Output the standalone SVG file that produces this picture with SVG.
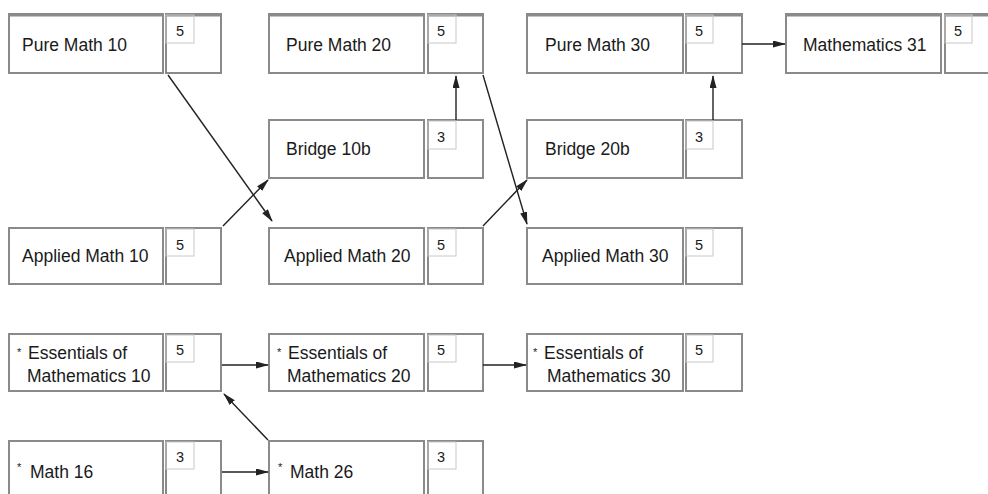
<svg xmlns="http://www.w3.org/2000/svg" width="988" height="494" viewBox="0 0 988 494">
<defs>
<marker id="ah" markerUnits="userSpaceOnUse" markerWidth="13" markerHeight="8" refX="12" refY="3.5" orient="auto">
<path d="M0,0 L13,3.5 L0,7 z" fill="#222"/>
</marker>
<style>
.box{fill:#fff;stroke:#8a8a8a;stroke-width:2}
.inner{fill:none;stroke:#c8c8c8;stroke-width:1}
.top{stroke:#8a8a8a;stroke-width:3}
.t{font-family:"Liberation Sans",Arial,sans-serif;font-size:17.5px;fill:#1a1a1a}
.n{font-family:"Liberation Sans",Arial,sans-serif;font-size:14.5px;fill:#1a1a1a}
.s{font-family:"Liberation Sans",Arial,sans-serif;font-size:11px;fill:#1a1a1a}
.c{stroke:#222;stroke-width:1.4;fill:none;marker-end:url(#ah)}
</style>
</defs>
<rect width="988" height="494" fill="#fff"/>

<g id="pm10">
<rect class="box" x="9" y="14" width="154" height="59"/><line class="top" x1="9" y1="15" x2="163" y2="15"/>
<rect class="box" x="166" y="14" width="55" height="59"/><line class="top" x1="166" y1="15" x2="221" y2="15"/>
<rect class="inner" x="166" y="15" width="28" height="28"/>
<text class="t" x="22" y="51">Pure Math 10</text><text class="n" x="176" y="36">5</text>
</g>
<g id="pm20">
<rect class="box" x="269" y="14" width="155" height="59"/><line class="top" x1="269" y1="15" x2="424" y2="15"/>
<rect class="box" x="428" y="14" width="55" height="59"/><line class="top" x1="428" y1="15" x2="483" y2="15"/>
<rect class="inner" x="428" y="15" width="28" height="28"/>
<text class="t" x="286" y="51">Pure Math 20</text><text class="n" x="437" y="36">5</text>
</g>
<g id="pm30">
<rect class="box" x="527" y="14" width="156" height="59"/><line class="top" x1="527" y1="15" x2="683" y2="15"/>
<rect class="box" x="686" y="14" width="56" height="59"/><line class="top" x1="686" y1="15" x2="742" y2="15"/>
<rect class="inner" x="686" y="15" width="27" height="28"/>
<text class="t" x="545" y="51">Pure Math 30</text><text class="n" x="695" y="36">5</text>
</g>
<g id="m31">
<rect class="box" x="786" y="14" width="155" height="59"/><line class="top" x1="786" y1="15" x2="941" y2="15"/>
<rect class="box" x="945" y="14" width="55" height="59"/><line class="top" x1="945" y1="15" x2="988" y2="15"/>
<rect class="inner" x="945" y="15" width="27" height="28"/>
<text class="t" x="803" y="51">Mathematics 31</text><text class="n" x="954" y="36">5</text>
</g>

<g id="b10">
<rect class="box" x="269" y="120" width="155" height="58"/>
<rect class="box" x="428" y="120" width="55" height="58"/>
<rect class="inner" x="428" y="121" width="28" height="28"/>
<text class="t" x="286" y="155">Bridge 10b</text><text class="n" x="437" y="142">3</text>
</g>
<g id="b20">
<rect class="box" x="527" y="120" width="156" height="58"/>
<rect class="box" x="686" y="120" width="56" height="58"/>
<rect class="inner" x="686" y="121" width="27" height="28"/>
<text class="t" x="545" y="155">Bridge 20b</text><text class="n" x="695" y="142">3</text>
</g>

<g id="am10">
<rect class="box" x="9" y="228" width="154" height="56"/>
<rect class="box" x="166" y="228" width="55" height="56"/>
<rect class="inner" x="166" y="229" width="28" height="27"/>
<text class="t" x="22" y="262">Applied Math 10</text><text class="n" x="176" y="250">5</text>
</g>
<g id="am20">
<rect class="box" x="269" y="228" width="155" height="56"/>
<rect class="box" x="428" y="228" width="55" height="56"/>
<rect class="inner" x="428" y="229" width="28" height="27"/>
<text class="t" x="284" y="262">Applied Math 20</text><text class="n" x="437" y="250">5</text>
</g>
<g id="am30">
<rect class="box" x="527" y="228" width="156" height="56"/>
<rect class="box" x="686" y="228" width="56" height="56"/>
<rect class="inner" x="686" y="229" width="27" height="27"/>
<text class="t" x="542" y="262">Applied Math 30</text><text class="n" x="695" y="250">5</text>
</g>

<g id="em10">
<rect class="box" x="9" y="334" width="154" height="57"/>
<rect class="box" x="166" y="334" width="55" height="57"/>
<rect class="inner" x="166" y="335" width="28" height="27"/>
<text class="s" x="17" y="356">*</text><text class="t" x="28" y="359">Essentials of</text>
<text class="t" x="27" y="382">Mathematics 10</text><text class="n" x="176" y="355">5</text>
</g>
<g id="em20">
<rect class="box" x="269" y="334" width="155" height="57"/>
<rect class="box" x="428" y="334" width="55" height="57"/>
<rect class="inner" x="428" y="335" width="28" height="27"/>
<text class="s" x="277" y="356">*</text><text class="t" x="288" y="359">Essentials of</text>
<text class="t" x="287" y="382">Mathematics  20</text><text class="n" x="437" y="355">5</text>
</g>
<g id="em30">
<rect class="box" x="527" y="334" width="156" height="57"/>
<rect class="box" x="686" y="334" width="56" height="57"/>
<rect class="inner" x="686" y="335" width="27" height="27"/>
<text class="s" x="533" y="356">*</text><text class="t" x="544" y="359">Essentials of</text>
<text class="t" x="547" y="382">Mathematics  30</text><text class="n" x="695" y="355">5</text>
</g>

<g id="m16">
<rect class="box" x="9" y="441" width="154" height="62"/>
<rect class="box" x="166" y="441" width="55" height="62"/>
<rect class="inner" x="166" y="442" width="28" height="27"/>
<text class="s" x="17" y="471">*</text><text class="t" x="30" y="478">Math 16</text><text class="n" x="176" y="462">3</text>
</g>
<g id="m26">
<rect class="box" x="269" y="441" width="155" height="62"/>
<rect class="box" x="428" y="441" width="55" height="62"/>
<rect class="inner" x="428" y="442" width="28" height="27"/>
<text class="s" x="278" y="471">*</text><text class="t" x="290" y="478">Math 26</text><text class="n" x="437" y="462">3</text>
</g>

<g id="connectors">
<line class="c" x1="168" y1="75" x2="272" y2="221"/>
<line class="c" x1="223" y1="226" x2="268" y2="180"/>
<line class="c" x1="456" y1="120" x2="456" y2="76"/>
<line class="c" x1="483" y1="75" x2="527" y2="224"/>
<line class="c" x1="483" y1="226" x2="527" y2="180"/>
<line class="c" x1="713" y1="120" x2="713" y2="76"/>
<line class="c" x1="742" y1="44" x2="785" y2="44"/>
<line class="c" x1="222" y1="365" x2="268" y2="365"/>
<line class="c" x1="483" y1="365" x2="526" y2="365"/>
<line class="c" x1="268" y1="440" x2="224" y2="394"/>
<line class="c" x1="222" y1="472" x2="268" y2="472"/>
</g>
</svg>
